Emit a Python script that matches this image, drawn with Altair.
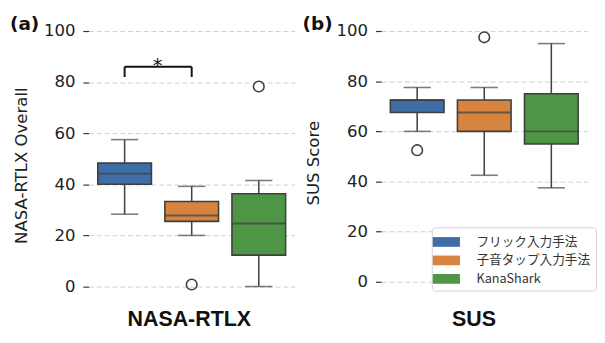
import altair as alt
import pandas as pd

cats = ["フリック入力手法", "子音タップ入力手法", "KanaShark"]
colors = ["#3e6ea5", "#d6843f", "#4e9646"]

# NASA-RTLX box statistics
rtlx_low = [28.3, 20.0, 0.0]
rtlx_q1 = [40.0, 25.5, 12.3]
rtlx_med = [44.2, 27.8, 24.7]
rtlx_q3 = [48.3, 33.3, 36.3]
rtlx_high = [57.5, 39.2, 41.5]
rtlx_out_cat = ["子音タップ入力手法", "KanaShark"]
rtlx_out_val = [0.8, 78.3]

# SUS box statistics
sus_low = [60.0, 42.5, 37.5]
sus_q1 = [67.5, 60.0, 55.0]
sus_med = [72.5, 67.5, 60.0]
sus_q3 = [72.5, 72.5, 75.0]
sus_high = [77.5, 77.5, 95.0]
sus_out_cat = ["フリック入力手法", "子音タップ入力手法"]
sus_out_val = [52.5, 97.5]

# significance bracket (a)
br_cats = ["フリック入力手法", "子音タップ入力手法"]
br_top = 86
br_bot = 82
star_y = 84

EDGE = "#3f3f3f"


def panel(low, q1, med, q3, high, ocat, oval, ytitle, xtitle, tag, height,
          show_legend, xtitle_x, xtitle_pad, bracket=False):
    df = pd.DataFrame({"cat": cats, "low": low, "q1": q1, "med": med,
                       "q3": q3, "high": high})
    odf = pd.DataFrame({"cat": ocat, "val": oval})
    xs = alt.Scale(domain=cats, paddingInner=0, paddingOuter=0.036)
    ys = alt.Scale(domain=[-5, 100], nice=False, zero=False)
    x_axis = alt.Axis(title=xtitle, labels=False, ticks=False, domain=False,
                      titleFont="Liberation Sans", titleFontSize=22,
                      titleFontWeight="bold", titleColor="#111",
                      titlePadding=xtitle_pad, titleX=xtitle_x)
    y_axis = alt.Axis(values=[0, 20, 40, 60, 80, 100], title=ytitle,
                      grid=True, gridDash=[5, 3], gridColor="#cfcfcf",
                      gridWidth=1, domain=False, tickSize=6,
                      tickColor="#333", tickWidth=1.2,
                      labelFont="DejaVu Sans", labelFontSize=17,
                      labelColor="#222", labelPadding=8,
                      titleFont="DejaVu Sans", titleFontSize=17,
                      titleFontWeight="normal", titleColor="#222",
                      titlePadding=14)

    def X(f):
        return alt.X(f, sort=cats, scale=xs, axis=x_axis)

    def Y(f):
        return alt.Y(f, scale=ys, axis=y_axis)

    base = alt.Chart(df)
    whisk = base.mark_rule(color="#444", strokeWidth=1.6).encode(
        x=X("cat:N"), y=Y("low:Q"), y2="high:Q")
    if show_legend:
        leg = alt.Legend(orient="none", legendX=52, legendY=202, title=None,
                         fillColor="white", strokeColor="#d4d4d4",
                         cornerRadius=3, padding=5,
                         symbolType="M-1.4,-0.5H1.4V0.5H-1.4Z",
                         symbolSize=400, symbolStrokeWidth=0,
                         symbolOpacity=1, labelFont="Noto Sans CJK JP",
                         labelFontSize=13, labelColor="#333",
                         labelOffset=21, rowPadding=2, labelLimit=300)
    else:
        leg = None
    box = base.mark_bar(width=alt.RelativeBandSize(0.8), stroke=EDGE,
                        strokeWidth=1.6, opacity=1).encode(
        x=X("cat:N"), y=Y("q1:Q"), y2="q3:Q",
        color=alt.Color("cat:N", sort=cats,
                        scale=alt.Scale(domain=cats, range=colors),
                        legend=leg))
    medt = base.mark_tick(size=55, thickness=2, color=EDGE).encode(
        x=X("cat:N"), y=Y("med:Q"))
    capl = base.mark_tick(size=28, thickness=1.6, color="#444").encode(
        x=X("cat:N"), y=Y("low:Q"))
    caph = base.mark_tick(size=28, thickness=1.6, color="#444").encode(
        x=X("cat:N"), y=Y("high:Q"))
    outl = alt.Chart(odf).mark_point(shape="circle", size=120, filled=False,
                                     stroke=EDGE, strokeWidth=1.6,
                                     opacity=1).encode(
        x=X("cat:N"), y=Y("val:Q"))
    tagc = alt.Chart(pd.DataFrame({"t": [tag]})).mark_text(
        align="left", baseline="alphabetic", font="DejaVu Sans",
        fontWeight="bold", fontSize=19, color="#111").encode(
        text="t:N", x=alt.value(-81), y=alt.value(-1))
    layers = [whisk, box, medt, capl, caph, outl, tagc]
    if bracket:
        bdf = pd.DataFrame({"c1": [br_cats[0]], "c2": [br_cats[1]],
                            "y": [br_top]})
        ldf = pd.DataFrame({"cat": br_cats, "y1": [br_bot] * 2,
                            "y2": [br_top] * 2})
        sdf = pd.DataFrame({"c1": [br_cats[0]], "y": [star_y], "t": ["*"]})
        hbar = alt.Chart(bdf).mark_rule(color="#111", strokeWidth=2).encode(
            x=X("c1:N"), x2="c2:N", y=Y("y:Q"))
        legs = alt.Chart(ldf).mark_rule(color="#111", strokeWidth=2).encode(
            x=X("cat:N"), y=Y("y1:Q"), y2="y2:Q")
        star = alt.Chart(sdf).mark_text(
            font="DejaVu Sans", fontSize=20, color="#111", dx=34,
            baseline="alphabetic").encode(
            x=X("c1:N"), y=Y("y:Q"), text="t:N")
        layers += [hbar, legs, star]
    return alt.layer(*layers).properties(width=212, height=height)


left = panel(rtlx_low, rtlx_q1, rtlx_med, rtlx_q3, rtlx_high,
             rtlx_out_cat, rtlx_out_val, "NASA-RTLX Overall", "NASA-RTLX",
             "(a)", 276, False, 103, 10, bracket=True)
right = panel(sus_low, sus_q1, sus_med, sus_q3, sus_high,
              sus_out_cat, sus_out_val, "SUS Score", "SUS",
              "(b)", 271, True, 95, 15)

chart = alt.hconcat(left, right, spacing=8).resolve_scale(
    color="independent").resolve_legend(color="independent").properties(
    padding={"left": 2, "top": 3, "right": 0, "bottom": 0},
    background="white"
).configure_view(strokeWidth=0, stroke="transparent")

chart.save("out.html", embed_options={"renderer": "svg", "actions": False})
